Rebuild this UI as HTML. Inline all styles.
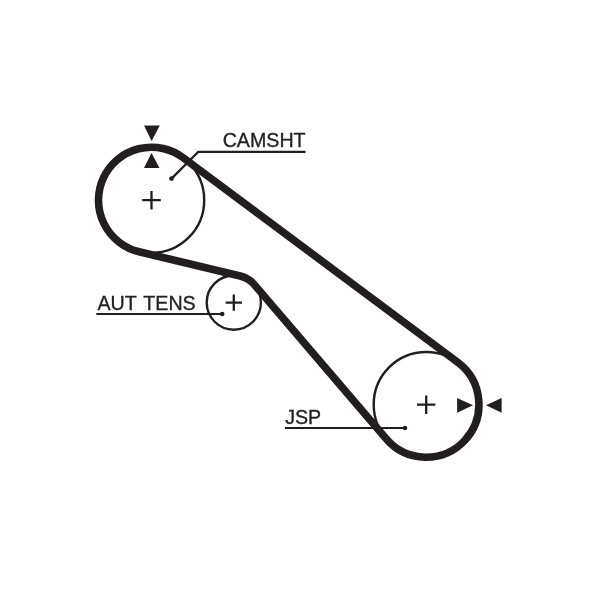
<!DOCTYPE html>
<html><head><meta charset="utf-8"><style>
html,body{margin:0;padding:0;background:#fff;width:600px;height:589px;overflow:hidden}
svg{display:block;will-change:transform}
text{font-family:"Liberation Sans",sans-serif;stroke:#231f20;stroke-width:0.35px}
</style></head><body>
<svg width="600" height="589" viewBox="0 0 600 589">
<circle cx="151.5" cy="200.2" r="52.7" fill="none" stroke="#221e1f" stroke-width="2.4"/>
<circle cx="426.2" cy="404.5" r="52.5" fill="none" stroke="#221e1f" stroke-width="2.4"/>
<circle cx="233.8" cy="302.6" r="27.1" fill="none" stroke="#221e1f" stroke-width="2.4"/>
<path d="M183.17,157.70 L457.69,362.24 A52.7,52.7 0 1 1 386.15,438.75 L254.55,284.86 A27.3,27.3 0 0 0 240.19,276.06 L139.10,251.73 A53.0,53.0 0 1 1 183.17,157.70 Z" fill="none" stroke="#221e1f" stroke-width="7.6"/>
<path d="M142.20,200.20H160.80M151.50,190.90V209.50" stroke="#221e1f" stroke-width="2.3" fill="none"/>
<path d="M417.00,404.70H435.40M426.20,395.50V413.90" stroke="#221e1f" stroke-width="2.3" fill="none"/>
<path d="M225.60,302.60H242.00M233.80,294.40V310.80" stroke="#221e1f" stroke-width="2.3" fill="none"/>
<path d="M144,125.5 L159.8,125.5 L151.6,141 Z" fill="#221e1f"/>
<path d="M151.5,153 L159.5,168 L144,168 Z" fill="#221e1f"/>
<path d="M457.1,397.9 L473.0,405.3 L457.1,412.8 Z" fill="#221e1f"/>
<path d="M486.0,405.3 L501.6,397.9 L501.6,412.8 Z" fill="#221e1f"/>
<path d="M171.5,178.6 L198.3,151.8 H305.5" fill="none" stroke="#221e1f" stroke-width="2.3" stroke-linejoin="round"/>
<circle cx="171.5" cy="178.6" r="2.3" fill="#221e1f"/>
<path d="M96.3,314 H222.2" fill="none" stroke="#221e1f" stroke-width="2.2"/>
<circle cx="222.2" cy="314" r="2.3" fill="#221e1f"/>
<path d="M285,428 H405" fill="none" stroke="#221e1f" stroke-width="2.2"/>
<circle cx="405" cy="428" r="2.3" fill="#221e1f"/>
<text x="222.7" y="146.6" font-size="19.65" fill="#231f20">CAMSHT</text>
<text y="309.9" font-size="19.65" fill="#231f20"><tspan x="97.4">AUT</tspan><tspan x="143.3">TENS</tspan></text>
<text x="285.2" y="423.7" font-size="19.65" fill="#231f20">JSP</text>
</svg>
</body></html>
